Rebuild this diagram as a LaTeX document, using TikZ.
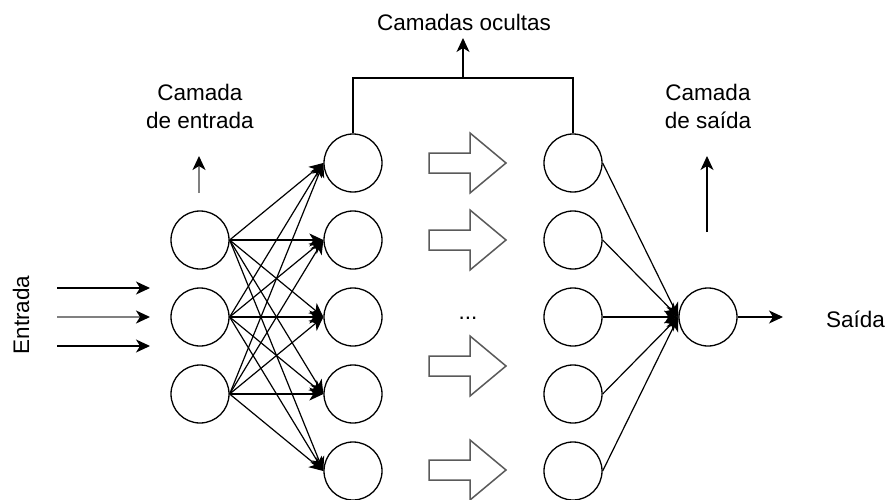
\documentclass[tikz,border=0pt]{standalone}
\usepackage{fontspec}
\setmainfont{Liberation Sans}
\usetikzlibrary{arrows.meta}
\definecolor{midgray}{RGB}{128,128,128}
\definecolor{outgray}{RGB}{90,90,90}
\begin{document}
\begin{tikzpicture}[x=1pt,y=-1pt,
  neuron/.style={circle,draw=black,line width=1.3pt,minimum size=58pt,inner sep=0pt},
  conn/.style={line width=1.2pt,-{Stealth[length=14pt,width=13pt,inset=4pt,color=black,fill=black]}},
  plainline/.style={line width=1.2pt},
  blockarrow/.style={draw=outgray,line width=1.5pt,fill=white,line join=miter},
  lbl/.style={font=\fontsize{22.5}{28}\selectfont,align=center,inner sep=0pt}]
\useasboundingbox (0,0) rectangle (888,500);

% nodes
\foreach \n/\y in {1/240,2/317,3/394} \node[neuron] (i\n) at (200,\y) {};
\foreach \n/\y in {1/163,2/240,3/317,4/394,5/471} \node[neuron] (h\n) at (353,\y) {};
\foreach \n/\y in {1/163,2/240,3/317,4/394,5/471} \node[neuron] (k\n) at (573,\y) {};
\node[neuron] (o) at (708,317) {};

% input arrows
\coordinate (a1s) at (57,288); \coordinate (a1e) at (150,288);
\coordinate (a2s) at (57,317); \coordinate (a2e) at (150,317);
\coordinate (a3s) at (57,346); \coordinate (a3e) at (150,346);
\draw[conn] (a1s) -- (a1e);
\draw[conn,draw=midgray,line width=1.8pt] (a2s) -- (a2e);
\draw[conn] (a3s) -- (a3e);
\node[lbl,rotate=90] (entrada) at (21,315) {Entrada};

% input -> hidden1
\foreach \a in {1,2,3}
  \foreach \b in {1,2,3,4,5}
    \draw[conn] (i\a.east) -- (h\b.west);

% hidden2 -> output
\foreach \b in {1,2,3,4,5}
  \draw[conn] (k\b.east) -- (o.west);

% output arrow
\coordinate (oe) at (783,317);
\draw[conn] (o.east) -- (oe);
\node[lbl,anchor=west] (saida) at (826,319) {Saída};

% block arrows
\foreach \y in {163,240,366,470}
  \draw[blockarrow] (429,\y-10) -- (470,\y-10) -- (470,\y-30) -- (506,\y)
     -- (470,\y+30) -- (470,\y+10) -- (429,\y+10) -- cycle;
\node[lbl,anchor=base] (dots) at (468,319) {...};

% hidden bracket
\coordinate (bl) at (353,78); \coordinate (br) at (573,78);
\coordinate (bm) at (463,78); \coordinate (bt) at (463,38);
\draw[plainline] (h1.north) -- (bl) -- (br) -- (k1.north);
\draw[conn] (bm) -- (bt);
\node[lbl] (ocultas) at (464,22) {Camadas ocultas};

% input layer label
\coordinate (il1) at (199,193); \coordinate (il2) at (199,156);
\draw[conn,draw=midgray,line width=1.8pt] (il1) -- (il2);
\node[lbl] (entlbl) at (200,106) {Camada\\de entrada};

% output layer label
\coordinate (ol1) at (707,232); \coordinate (ol2) at (707,156);
\draw[conn] (ol1) -- (ol2);
\node[lbl] (sailbl) at (708,106) {Camada\\de saída};
\end{tikzpicture}
\end{document}
